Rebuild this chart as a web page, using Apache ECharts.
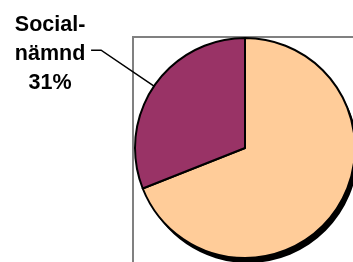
<!DOCTYPE html>
<html>
<head>
<meta charset="utf-8">
<script src="https://cdn.jsdelivr.net/npm/echarts@6/dist/echarts.min.js"></script>
<style>
  html, body { margin: 0; padding: 0; background: #fff; }
  #chart { width: 353px; height: 262px; }
</style>
</head>
<body>
<div id="chart"></div>
<script>
// slices, in drawing order (clockwise from 12 o'clock)
const categories = ['Övriga', 'Social-\nnämnd'];
const values = [69, 31];
const colors = ['#FFCC99', '#993366'];
const showLabel = [false, true];

const chart = echarts.init(document.getElementById('chart'));

const pieData = categories.map(function (name, i) {
  return {
    name: name,
    value: values[i],
    itemStyle: { color: colors[i] },
    label: { show: showLabel[i] },
    labelLine: { show: showLabel[i] }
  };
});

// black drop shadow: same pie, shifted a bit right/down, drawn underneath
const shadowData = categories.map(function (name, i) {
  return { name: name, value: values[i] };
});

chart.setOption({
  animation: false,
  backgroundColor: '#fff',
  graphic: [{
    type: 'rect',
    z: -10,
    shape: { x: 133, y: 37, width: 400, height: 400 },
    style: { fill: 'none', stroke: '#808080', lineWidth: 2 }
  }],
  series: [{
    type: 'pie',
    z: 1,
    silent: true,
    center: [248, 153],
    radius: 110,
    startAngle: 90,
    itemStyle: { color: '#000', borderWidth: 0 },
    label: { show: false },
    labelLine: { show: false },
    emphasis: { disabled: true },
    data: shadowData
  }, {
    type: 'pie',
    z: 2,
    center: [245, 148],
    radius: 110,
    startAngle: 90,
    clockwise: true,
    percentPrecision: 0,
    itemStyle: { borderColor: '#000', borderWidth: 2 },
    emphasis: { disabled: true },
    label: {
      position: 'outside',
      alignTo: 'none',
      bleedMargin: 0,
      overflow: 'none',
      padding: [8, 0, 0, 0],
      formatter: function (p) {
        const lines = p.name.split('\n').concat([Math.round(p.percent) + '%']);
        return lines.map(function (s) { return '{t|' + s + '}'; }).join('\n');
      },
      rich: {
        t: {
          width: 72,
          align: 'center',
          fontFamily: 'Liberation Sans, Arial, sans-serif',
          fontWeight: 'bold',
          fontSize: 21.5,
          lineHeight: 29,
          color: '#000'
        }
      }
    },
    labelLine: {
      length: 64,
      length2: 10,
      smooth: false,
      lineStyle: { color: '#000', width: 1.5 }
    },
    data: pieData
  }]
});
</script>
</body>
</html>
